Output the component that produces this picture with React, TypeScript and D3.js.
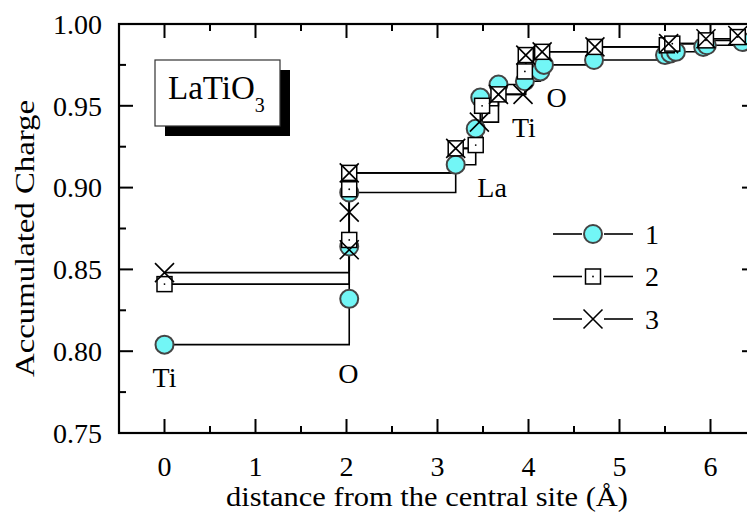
import * as d3 from 'd3';

// series 1 (circles)
const dist1 = [0, 2.03, 2.03, 2.03, 3.2, 3.42, 3.47, 3.67, 3.96, 4.13, 4.17, 4.72, 5.5, 5.56, 5.62, 5.92, 5.96, 6.35];
const charge1 = [0.804, 0.832, 0.864, 0.897, 0.914, 0.936, 0.955, 0.963, 0.965, 0.971, 0.975, 0.978, 0.981, 0.982, 0.983, 0.986, 0.987, 0.989];

// series 2 (dotted squares)
const dist2 = [0, 2.03, 2.03, 2.03, 3.2, 3.42, 3.49, 3.67, 3.96, 3.97, 4.15, 4.73, 5.52, 5.58, 5.95, 6.3];
const charge2 = [0.841, 0.868, 0.899, 0.909, 0.924, 0.926, 0.95, 0.957, 0.971, 0.981, 0.983, 0.986, 0.987, 0.988, 0.99, 0.992];

// series 3 (crosses)
const dist3 = [0, 2.03, 2.03, 2.03, 3.2, 3.46, 3.67, 3.94, 3.97, 4.15, 4.73, 5.54, 5.95, 6.3];
const charge3 = [0.848, 0.862, 0.885, 0.909, 0.924, 0.94, 0.957, 0.957, 0.981, 0.983, 0.986, 0.988, 0.991, 0.993];

const xTicks = [0, 1, 2, 3, 4, 5, 6];
const yTicks = [0.75, 0.8, 0.85, 0.9, 0.95, 1.0];

const siteLabels = ['Ti', 'O', 'La', 'Ti', 'O'];
const siteX = [0, 2.02, 3.6, 3.95, 4.31];
const siteY = [0.778, 0.7805, 0.8945, 0.931, 0.9495];

const W = 747;
const H = 516;
const FONT = "'Liberation Serif', 'Times New Roman', Times, serif";

const x = d3.scaleLinear().domain([-0.5, 6.5]).range([119, 756]);
const y = d3.scaleLinear().domain([0.75, 1.0]).range([433, 24]);

const CYAN = '#72f6f6';

type Pt = [number, number];
const zip = (a: number[], b: number[]): Pt[] => a.map((v, i) => [v, b[i]]);

const stepLine = d3
  .line<Pt>()
  .x((d) => x(d[0]))
  .y((d) => y(d[1]))
  .curve(d3.curveStepAfter);

function Circle({ cx, cy }: { cx: number; cy: number }) {
  return <circle cx={cx} cy={cy} r={9} fill={CYAN} stroke='#444' strokeWidth={2} />;
}
function Square({ cx, cy }: { cx: number; cy: number }) {
  return (
    <g>
      <rect x={cx - 7.5} y={cy - 7.5} width={15} height={15} fill='#fff' stroke='#000' strokeWidth={1.5} />
      <circle cx={cx} cy={cy} r={0.9} fill='#000' />
    </g>
  );
}
function Cross({ cx, cy }: { cx: number; cy: number }) {
  const s = 9.5;
  return (
    <path
      d={`M${cx - s},${cy - s}L${cx + s},${cy + s}M${cx - s},${cy + s}L${cx + s},${cy - s}`}
      stroke='#000'
      strokeWidth={1.6}
      fill='none'
    />
  );
}

export default function App() {
  const s1 = zip(dist1, charge1);
  const s2 = zip(dist2, charge2);
  const s3 = zip(dist3, charge3);
  const [x0, x1] = x.range();
  const [y0, y1] = y.range();
  const minorX = d3.range(-0.5, 6.6, 1);
  const minorY = d3.range(0.775, 1.0, 0.05);

  const legend = [
    { label: '1', M: Circle },
    { label: '2', M: Square },
    { label: '3', M: Cross },
  ];
  const legendY = [234, 276.5, 319];

  return (
    <svg
      width={W}
      height={H}
      style={{ position: 'absolute', left: 0, top: 0, background: '#fff', fontFamily: FONT }}
    >
      <defs>
        <clipPath id='plot'>
          <rect x={x0} y={y1} width={x1 - x0} height={y0 - y1} />
        </clipPath>
      </defs>

      {/* frame */}
      <rect x={x0} y={y1} width={x1 - x0} height={y0 - y1} fill='none' stroke='#000' strokeWidth={2.2} />

      {/* major ticks, all four sides, inward */}
      {xTicks.map((t) => (
        <g key={'xt' + t}>
          <line x1={x(t)} x2={x(t)} y1={y0} y2={y0 - 14} stroke='#000' strokeWidth={2} />
          <line x1={x(t)} x2={x(t)} y1={y1} y2={y1 + 14} stroke='#000' strokeWidth={2} />
          <text x={x(t)} y={476} textAnchor='middle' fontSize={28}>
            {t}
          </text>
        </g>
      ))}
      {minorX.map((t) => (
        <g key={'xm' + t}>
          <line x1={x(t)} x2={x(t)} y1={y0} y2={y0 - 7} stroke='#000' strokeWidth={2} />
          <line x1={x(t)} x2={x(t)} y1={y1} y2={y1 + 7} stroke='#000' strokeWidth={2} />
        </g>
      ))}
      {yTicks.map((t) => (
        <g key={'yt' + t}>
          <line x1={x0} x2={x0 + 14} y1={y(t)} y2={y(t)} stroke='#000' strokeWidth={2} />
          <line x1={x1} x2={x1 - 14} y1={y(t)} y2={y(t)} stroke='#000' strokeWidth={2} />
          <text x={102} y={y(t)} dy='0.35em' textAnchor='end' fontSize={28}>
            {t.toFixed(2)}
          </text>
        </g>
      ))}
      {minorY.map((t) => (
        <g key={'ym' + t}>
          <line x1={x0} x2={x0 + 7} y1={y(t)} y2={y(t)} stroke='#000' strokeWidth={2} />
          <line x1={x1} x2={x1 - 7} y1={y(t)} y2={y(t)} stroke='#000' strokeWidth={2} />
        </g>
      ))}

      {/* axis titles */}
      <text
        x={226}
        y={506}
        fontSize={27}
        textLength={402}
        lengthAdjust='spacingAndGlyphs'
      >
        distance from the central site (Å)
      </text>
      <text
        transform={`translate(34,${377}) rotate(-90)`}
        fontSize={28}
        textLength={277}
        lengthAdjust='spacingAndGlyphs'
      >
        Accumulated Charge
      </text>

      {/* data */}
      <g clipPath='url(#plot)'>
        <path d={stepLine(s1) ?? ''} fill='none' stroke='#000' strokeWidth={1.6} />
        <path d={stepLine(s2) ?? ''} fill='none' stroke='#000' strokeWidth={1.6} />
        <path d={stepLine(s3) ?? ''} fill='none' stroke='#000' strokeWidth={1.6} />
        {s1.map((d, i) => (
          <Circle key={'c' + i} cx={x(d[0])} cy={y(d[1])} />
        ))}
        {s2.map((d, i) => (
          <Square key={'s' + i} cx={x(d[0])} cy={y(d[1])} />
        ))}
        {s3.map((d, i) => (
          <Cross key={'x' + i} cx={x(d[0])} cy={y(d[1])} />
        ))}
      </g>

      {/* site labels */}
      {siteLabels.map((l, i) => (
        <text key={'l' + i} x={x(siteX[i])} y={y(siteY[i])} textAnchor='middle' fontSize={28}>
          {l}
        </text>
      ))}

      {/* compound box */}
      <rect x={165} y={70} width={125} height={66} fill='#000' />
      <rect x={155} y={60} width={125} height={66} fill='#fff' stroke='#333' strokeWidth={1.2} />
      <text x={168} y={99} fontSize={33}>
        LaTiO
        <tspan fontSize={20} dy={13}>
          3
        </tspan>
      </text>

      {/* legend */}
      {legend.map((g, i) => {
        const ly = legendY[i];
        const M = g.M;
        return (
          <g key={'lg' + i}>
            <line x1={553} x2={582} y1={ly} y2={ly} stroke='#000' strokeWidth={1.6} />
            <line x1={604} x2={633} y1={ly} y2={ly} stroke='#000' strokeWidth={1.6} />
            <M cx={593} cy={ly} />
            <text x={645} y={ly} dy='0.35em' fontSize={28}>
              {g.label}
            </text>
          </g>
        );
      })}
    </svg>
  );
}
